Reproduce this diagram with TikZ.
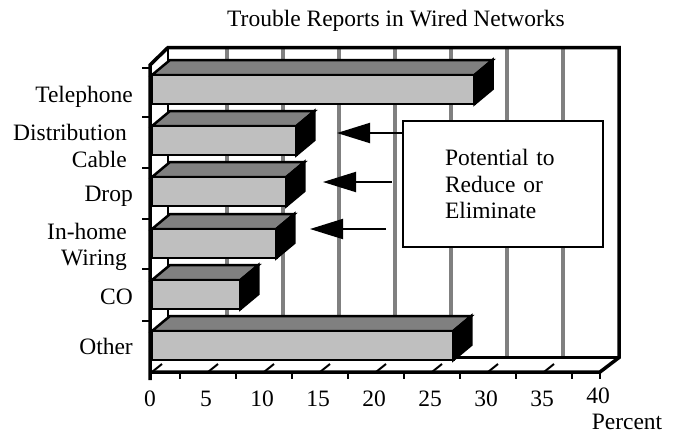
\documentclass[tikz,border=0pt]{standalone}
\usepackage{fontspec}
\setmainfont{Liberation Serif}
\usetikzlibrary{arrows.meta}
\definecolor{barfront}{gray}{0.75}
\definecolor{bartop}{gray}{0.5}
\definecolor{gridgray}{gray}{0.5}
\begin{document}
\begin{tikzpicture}[x=1pt,y=-1pt,
  txt/.style={font=\fontsize{23.5}{26.5}\selectfont, inner sep=0pt},
  wallline/.style={line width=3.5pt, line join=miter},
  gridline/.style={gridgray, line width=4pt},
  barline/.style={line width=2.5pt, line join=miter},
  tickline/.style={line width=2pt},
  callout/.style={line width=2pt, -{Triangle[length=33pt,width=20pt]}},
  notebox/.style={draw, fill=white, line width=1.5pt, minimum width=200pt,
    minimum height=126pt, text width=116pt, align=left,
    font=\fontsize{23.5}{26.5}\selectfont}]
\useasboundingbox (0,0) rectangle (675,434);
\fill[white] (0,0) rectangle (675,434);

% back wall with vertical gridlines every 5 percent
\fill[white] (168,47.5) rectangle (619,357.5);
\foreach \v in {5,10,...,35}
  \draw[gridline] ({171+11.2*\v},47.5) -- ({171+11.2*\v},357.5);

% walls and floor outline
\draw[line width=2.5pt] (168,47.5) -- (168,357.5) -- (619,357.5);
\draw[wallline] (150,380) -- (150,65) -- (168,47.5) -- (619,47.5)
  -- (619,357.5) -- (600,372) -- (148.5,372);

% category ticks on the left axis
\foreach \y in {68,117,168,219,269,321}
  \draw[tickline] (142,\y) -- (150,\y);

% ticks on the floor
\foreach \k in {0,...,7}
  \draw[tickline] ({152+56*\k},372) -- ++(10,-8);
\foreach \k in {0,...,7}
  \draw[tickline] ({152+11.2*(2.5+5*\k)},372) -- ++(0,7);
\draw[tickline] (600,372) -- (600,379);

% bars: front face, top face, right end
\foreach \ty/\v in {75/28.8, 126/12.9, 177/12.0, 229/11.1, 280/7.9, 331/26.9} {
  \pgfmathsetmacro\xe{152+11.2*\v}
  \filldraw[barline, fill=bartop] (152,\ty) -- (170,{\ty-15}) -- ({\xe+18},{\ty-15})
    -- (\xe,\ty) -- cycle;
  \filldraw[barline, fill=black] (\xe,\ty) -- ({\xe+18},{\ty-15}) -- ({\xe+18},{\ty+14})
    -- (\xe,{\ty+29}) -- cycle;
  \filldraw[barline, fill=barfront] (152,\ty) rectangle (\xe,{\ty+29});
}

% title
\node[txt] (title) at (396,21) {Trouble Reports in Wired Networks};

% category labels
\node[txt, anchor=east] (lTel) at (133,97) {Telephone};
\node[txt, anchor=east, align=right] (lDist) at (127,146) {Distribution\\Cable};
\node[txt, anchor=east] (lDrop) at (133,196) {Drop};
\node[txt, anchor=east, align=right] (lHome) at (127,247) {In-home\\Wiring};
\node[txt, anchor=east] (lCO) at (133,297) {CO};
\node[txt, anchor=east] (lOther) at (133,346) {Other};

% value axis labels
\foreach \v [count=\i] in {0,5,...,35}
  \node[txt] (xl\i) at ({150+11.2*\v},399) {\v};
\node[txt] (xl9) at (598,396) {40};
\node[txt] (unit) at (627,422) {Percent};

% note and arrows
\node[notebox] (box) at (503,184) {Potential to\\Reduce or\\Eliminate};
\coordinate (tip1) at (337,133);
\coordinate (tip2) at (323,182);
\coordinate (tail2) at (392,182);
\coordinate (tip3) at (310,229);
\coordinate (tail3) at (386,229);
\draw[callout] (box.west |- tip1) -- (tip1);
\draw[callout] (tail2) -- (tip2);
\draw[callout] (tail3) -- (tip3);
\end{tikzpicture}
\end{document}
